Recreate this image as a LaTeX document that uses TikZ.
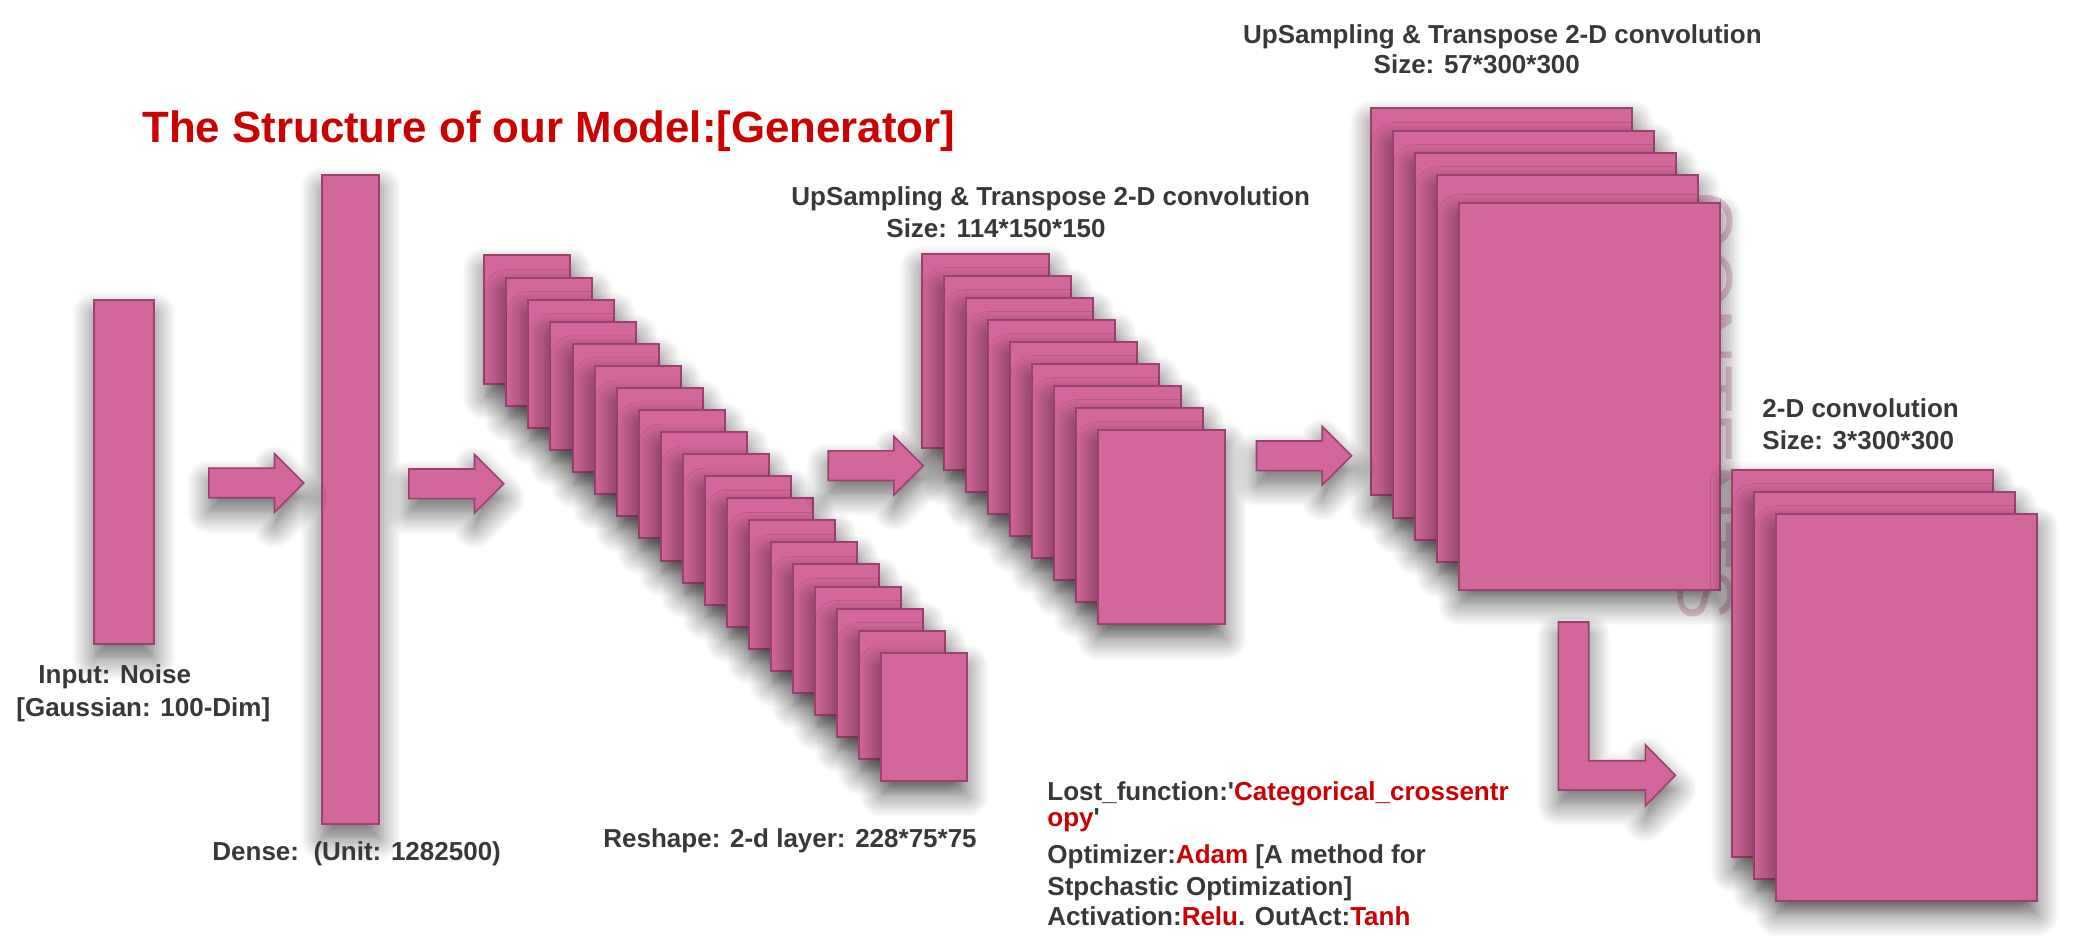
\documentclass[tikz,border=0pt]{standalone}
\usepackage{fontspec}
\setmainfont{Liberation Sans}
\usetikzlibrary{shapes.arrows,shadows,shadows.blur}
\definecolor{layerfill}{HTML}{D3669A}
\definecolor{layerline}{HTML}{9B4170}
\definecolor{labelink}{HTML}{383838}
\definecolor{titlered}{HTML}{CC0000}
\definecolor{markpink}{HTML}{EACBD8}
\newcommand{\hl}[1]{\textcolor{titlered}{#1}}
\tikzset{
  softshadow/.style={blur shadow={shadow xshift=0pt,shadow yshift=-7pt,shadow blur radius=11pt,
    shadow blur steps=12,shadow opacity=60}},
}

\begin{document}
\begin{tikzpicture}[
  x=0.5pt, y=-0.5pt,
  layer/.style={draw=layerline,line width=1pt,fill=layerfill,inner sep=0pt,anchor=north west,softshadow},
  reshapemap/.style={layer,minimum width=43pt,minimum height=64.25pt},
  upmap/.style={layer,minimum width=63.75pt,minimum height=97.25pt},
  bigmap/.style={layer,minimum width=130.5pt,minimum height=193.5pt},
  blockarrow/.style={single arrow,draw=layerline,line width=0.8pt,fill=layerfill,inner xsep=0pt,inner ysep=7pt,
    minimum height=47.5pt,single arrow head extend=7.25pt,single arrow tip angle=90,anchor=tail,softshadow},
  caption/.style={font=\fontsize{13pt}{16.3pt}\selectfont\bfseries,text=labelink,inner sep=0pt,align=left,anchor=base west}
]
\useasboundingbox (0,0) rectangle (2077,951);

% faint watermark behind the maps
\node[rotate=-90,text=markpink,inner sep=0pt,font=\fontsize{39pt}{39pt}\selectfont] (mark) at (1705,406.5) {CONTENTS};

\node[anchor=base west,inner sep=0pt,text=titlered,font=\fontsize{21.9pt}{26pt}\selectfont\bfseries] (title) at (142,143) {The Structure of our Model:[Generator]};

% input and dense layers
\node[layer,minimum width=30pt,minimum height=172pt] (noise) at (93,299) {};
\node[layer,minimum width=28.5pt,minimum height=324.5pt] (dense) at (321,174) {};

% reshape: 19 maps
\foreach \i in {0,...,18}
  \node[reshapemap] (rs\i) at (483.3+22.05*\i,254.5+22.07*\i) {};

% upsampling 114*150*150
\foreach \i in {0,...,8}
  \node[upmap] (upa\i) at (920.7+22*\i,252.7+22*\i) {};

% upsampling 57*300*300
\foreach \dy [count=\i from 0] in {107.3,129.7,151.7,173.7,201.7}
  \node[bigmap] (upb\i) at (1370.3+22*\i,\dy) {};

% 2-D convolution
\foreach \i in {0,1,2}
  \node[bigmap] (conv\i) at (1731.3+22*\i,468.7+22*\i) {};

% arrows
\node[blockarrow] (a1) at (208,483) {};
\node[blockarrow] (a2) at (408,483.8) {};
\node[blockarrow] (a3) at (827.4,465.7) {};
\node[blockarrow] (a4) at (1255.7,455.8) {};
\draw[draw=layerline,line width=0.8pt,fill=layerfill,softshadow]
  (1558.3,622) -- (1588.7,622) -- (1588.7,760.7) -- (1645.3,760.7) -- (1645.3,744.7)
  -- (1675.3,775.3) -- (1645.3,806) -- (1645.3,790) -- (1558.3,790) -- cycle;

% labels (base = last line)
\node[caption] (noiselbl) at (16,716.3) {\hspace*{11pt}Input: Noise\\{}{[}Gaussian: 100-Dim{]}};
\node[caption] (denselbl) at (212,860) {Dense:\ \ (Unit: 1282500)};
\node[caption] (rslbl) at (603,847) {Reshape: 2-d layer: 228*75*75};
\node[caption] (upalbl) at (791,238) {UpSampling \& Transpose 2-D convolution\\\hspace*{47.5pt}Size: 114*150*150};
\node[caption,font=\fontsize{13pt}{15.4pt}\selectfont\bfseries] (upblbl) at (1242.7,74) {UpSampling \& Transpose 2-D convolution\\\hspace*{65.3pt}Size: 57*300*300};
\node[caption,font=\fontsize{13pt}{16pt}\selectfont\bfseries] (convlbl) at (1762,449.3) {2-D convolution\\Size: 3*300*300};
\node[caption,font=\fontsize{13pt}{16pt}\selectfont\bfseries] (notes) at (1047,925.7)
  {Lost\_function:\textquotesingle\hl{Categorical\_crossentr}\\[-3pt]\hl{opy}\textquotesingle\\[2.5pt]Optimizer:\hl{Adam} [A method for\\Stpchastic Optimization]\\[-0.7pt]Activation:\hl{Relu}. OutAct:\hl{Tanh}};
\end{tikzpicture}
\end{document}
